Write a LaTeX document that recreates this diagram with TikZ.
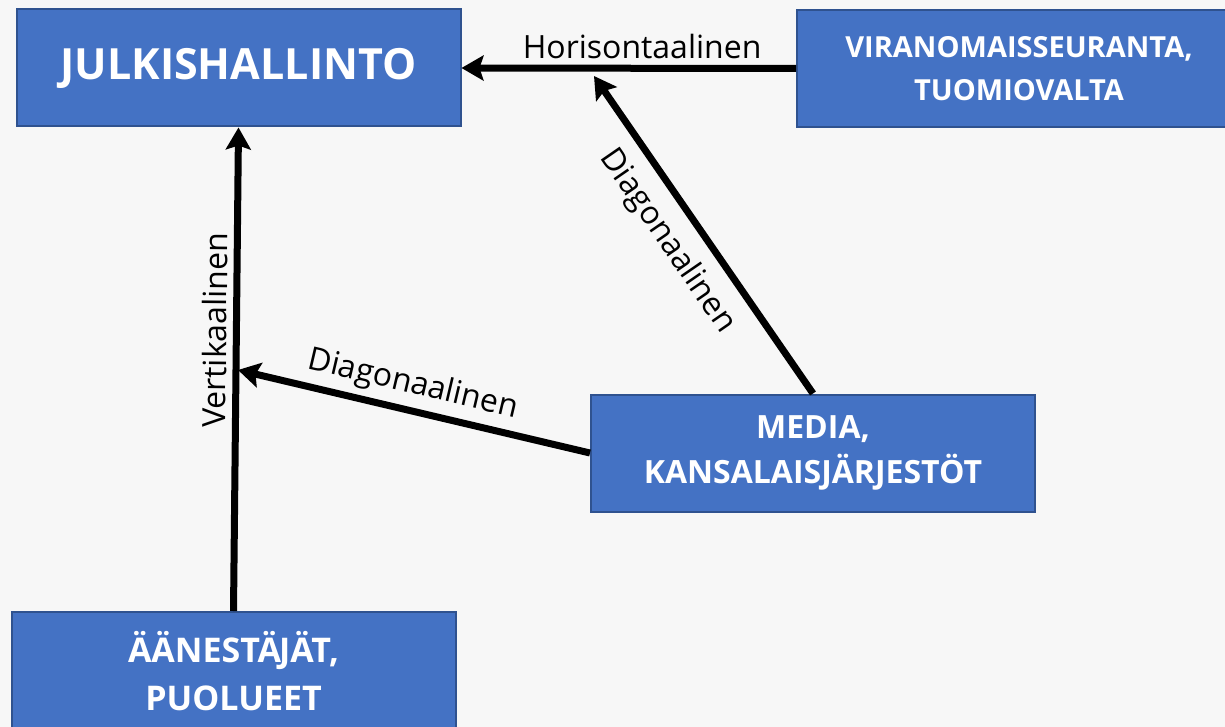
\documentclass[tikz,border=0pt]{standalone}
\usepackage{fontspec}
\setmainfont{Open Sans}
\usetikzlibrary{arrows.meta}
\definecolor{boxblue}{HTML}{4472C4}
\definecolor{boxedge}{HTML}{2F528F}
\definecolor{bggray}{HTML}{F7F7F7}
\begin{document}
\begin{tikzpicture}[x=1pt,y=-1pt,
    box/.style={draw=boxedge, line width=2pt, fill=boxblue, text=white, align=center,
                minimum width=444pt, minimum height=117pt, inner sep=0pt},
    arr/.style={line width=7pt, -{Stealth[length=22pt,width=25pt,inset=4pt]}},
    lbl/.style={font=\fontsize{32}{38}\selectfont, inner sep=6pt}]

    \fill[bggray] (0,0) rectangle (1225,727);
    \clip (0,0) rectangle (1225,727);

    % boxes
    \node[box, font=\bfseries\fontsize{43}{50}\selectfont] (julk) at (238.5,68) {JULKISHALLINTO};
    \node[box, font=\bfseries\fontsize{29}{43}\selectfont] (viran) at (1019,68.5) {VIRANOMAISSEURANTA,\\TUOMIOVALTA};
    \node[box, font=\bfseries\fontsize{32}{45}\selectfont] (media) at (813,453) {MEDIA,\\KANSALAISJÄRJESTÖT};
    \node[box, font=\bfseries\fontsize{34}{48}\selectfont, minimum height=118pt] (aanest) at (233.5,671) {ÄÄNESTÄ\kern-2pt JÄT,\\PUOLUEET};

    \coordinate (vhit) at (238,370);
    \coordinate (dtip) at (594,76);

    % arrows
    \draw[arr] (viran.west) -- (julk.east) node[lbl, above, pos=0.46] (hlab) {Horisontaalinen};
    \draw[arr] (aanest.north) -- (julk.south) node[lbl, sloped, above, pos=0.58] (vlab) {Vertikaalinen};
    \draw[arr] (media.west) -- (vhit) node[lbl, sloped, above, pos=0.52] (dlab1) {Diagonaalinen};
    \draw[arr] (media.north) -- (dtip) node[lbl, sloped, below, pos=0.54, inner sep=14pt] (dlab2) {Diagonaalinen};

\end{tikzpicture}
\end{document}
